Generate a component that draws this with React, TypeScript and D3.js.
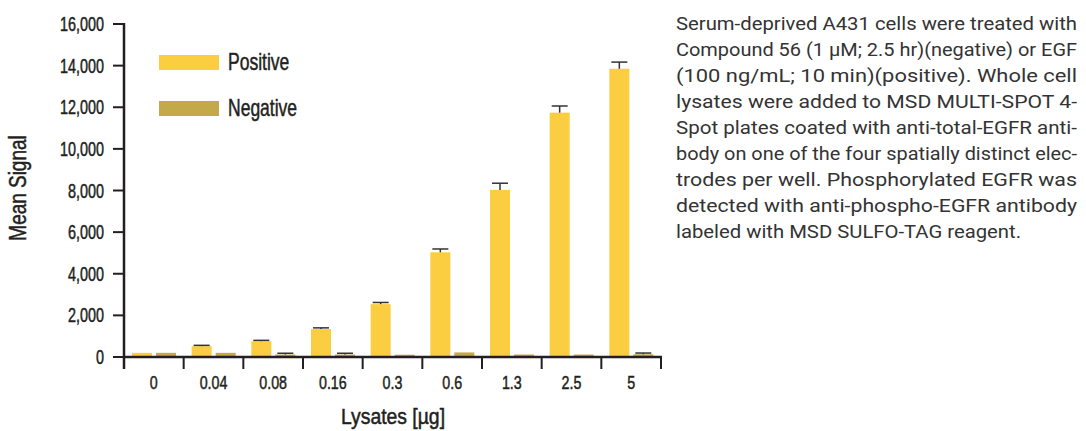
import * as d3 from 'd3'

const categories = ['0', '0.04', '0.08', '0.16', '0.3', '0.6', '1.3', '2.5', '5']
const positive = [200, 520, 760, 1340, 2540, 5030, 8030, 11740, 13850]
const positiveErr = [0, 40, 40, 60, 80, 160, 320, 320, 320]
const negative = [200, 200, 120, 120, 110, 220, 120, 120, 130]
const negativeErr = [0, 0, 60, 60, 0, 0, 0, 0, 60]
const yTicks = [0, 2000, 4000, 6000, 8000, 10000, 12000, 14000, 16000]
const series = ['Positive', 'Negative']

const caption = [
  'Serum-deprived A431 cells were treated with',
  'Compound 56 (1 µM; 2.5 hr)(negative) or EGF',
  '(100 ng/mL; 10 min)(positive).  Whole cell',
  'lysates were added to MSD MULTI-SPOT 4-',
  'Spot plates coated with anti-total-EGFR anti-',
  'body on one of the four spatially distinct elec-',
  'trodes per well.  Phosphorylated EGFR was',
  'detected with anti-phospho-EGFR antibody',
  'labeled with MSD SULFO-TAG reagent.',
]

const POS = '#fbcd41'
const NEG = '#c4a94b'
const INK = '#231f20'
const FONT = '"Liberation Sans", Arial, sans-serif'

// condensed-looking label: regular font squeezed horizontally, a touch heavier
function Narrow({ x, y, size, squeeze, anchor = 'start', rotate = 0, children }: any) {
  return (
    <g transform={`translate(${x},${y}) rotate(${rotate}) scale(${squeeze},1)`}>
      <text textAnchor={anchor} fontFamily={FONT} fontSize={size} fill={INK} stroke={INK} strokeWidth={0.5}>
        {children}
      </text>
    </g>
  )
}

export default function App() {
  const width = 1086
  const height = 431
  const left = 124
  const right = 661
  const top = 24
  const bottom = 357

  const x = d3.scaleBand<string>().domain(categories).range([left, right])
  const y = d3.scaleLinear().domain([0, 16000]).range([bottom, top])
  const bw = 20
  const pad = 8
  const gap = 4

  const fmt = d3.format(',')

  const errBar = (bx: number, v: number, e: number) => (
    <g stroke="#333" strokeWidth={1.5}>
      <line x1={bx + bw / 2} x2={bx + bw / 2} y1={y(v)} y2={y(v + e)} />
      <line x1={bx + 2} x2={bx + bw - 2} y1={y(v + e)} y2={y(v + e)} />
    </g>
  )

  return (
    <svg width={width} height={height} style={{ position: 'absolute', left: 0, top: 0, background: '#fff' }}>
      {/* bars */}
      {categories.map((c, i) => {
        const x0 = x(c)! + pad
        const x1 = x0 + bw + gap
        return (
          <g key={c}>
            <rect x={x0} y={y(positive[i])} width={bw} height={bottom - y(positive[i])} fill={POS} />
            <rect x={x1} y={y(negative[i])} width={bw} height={bottom - y(negative[i])} fill={NEG} />
            {positiveErr[i] > 0 && errBar(x0, positive[i], positiveErr[i])}
            {negativeErr[i] > 0 && errBar(x1, negative[i], negativeErr[i])}
          </g>
        )
      })}

      {/* y axis */}
      <line x1={left} x2={left} y1={top - 1} y2={bottom + 12} stroke={INK} strokeWidth={2.5} />
      {yTicks.map(t => (
        <g key={t}>
          <line x1={left - 11} x2={left} y1={y(t)} y2={y(t)} stroke={INK} strokeWidth={2} />
          <Narrow x={left - 20} y={y(t) + 7} size={20} squeeze={0.72} anchor="end">
            {fmt(t)}
          </Narrow>
        </g>
      ))}

      {/* x axis */}
      <line x1={left} x2={right + 1} y1={bottom} y2={bottom} stroke={INK} strokeWidth={2.5} />
      {categories.concat(['end']).map((c, i) => {
        const xp = i < categories.length ? x(c)! : right
        return <line key={'t' + i} x1={xp} x2={xp} y1={bottom} y2={bottom + 12} stroke={INK} strokeWidth={2} />
      })}
      {categories.map(c => (
        <Narrow key={'l' + c} x={x(c)! + x.bandwidth() / 2} y={389} size={19} squeeze={0.75} anchor="middle">
          {c}
        </Narrow>
      ))}

      <Narrow x={393} y={424} size={22} squeeze={0.88} anchor="middle">
        Lysates [µg]
      </Narrow>
      <Narrow x={26} y={188} size={24} squeeze={0.79} anchor="middle" rotate={-90}>
        Mean Signal
      </Narrow>

      {/* legend */}
      {series.map((s, i) => (
        <g key={s} transform={`translate(159,${55 + i * 46})`}>
          <rect width={60} height={15} fill={i === 0 ? POS : NEG} />
          <Narrow x={69} y={15} size={24} squeeze={0.73}>{s}</Narrow>
        </g>
      ))}

      {/* caption */}
      {caption.map((line, i) => (
        <text
          key={i}
          x={676}
          y={30 + i * 26}
          fontFamily="Roboto, sans-serif"
          fontSize={18}
          fill="#333"
          textLength={i === caption.length - 1 ? 345 : 401}
          lengthAdjust="spacingAndGlyphs"
        >
          {line}
        </text>
      ))}
    </svg>
  )
}
